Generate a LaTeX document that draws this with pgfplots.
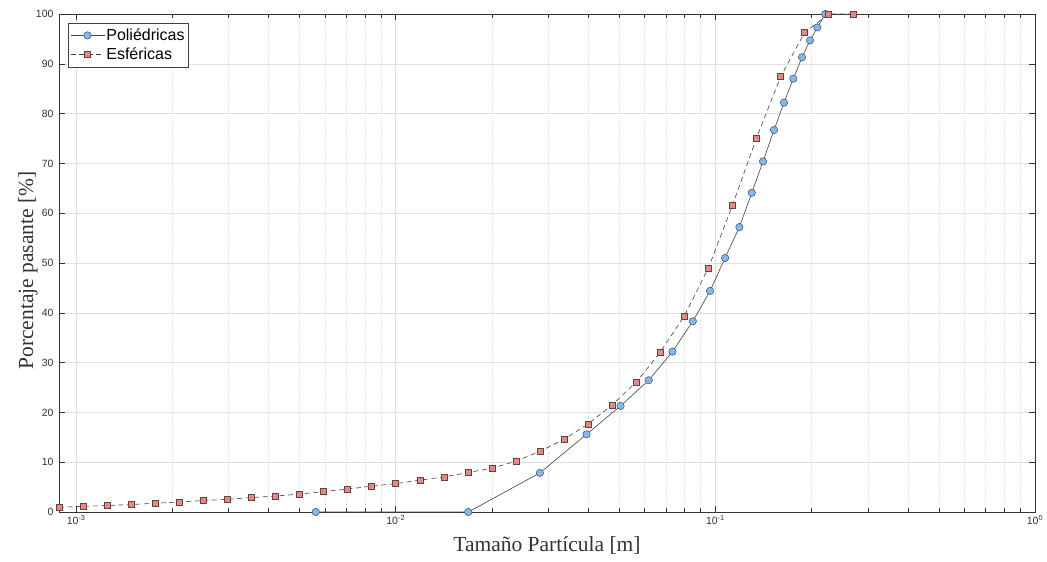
\documentclass[border=0pt]{standalone}
\usepackage{fontspec}
\setmainfont{Liberation Sans}
\newfontfamily\timesfont{Liberation Serif}
\usepackage{pgfplots}
\pgfplotsset{compat=1.18}
\definecolor{polfill}{RGB}{128,184,245}
\definecolor{esffill}{RGB}{248,128,128}
\begin{document}
\begin{tikzpicture}
\path[use as bounding box] (-59pt,-50pt) rectangle (988pt,512pt);
\begin{axis}[
  scale only axis,
  width=976pt, height=498pt,
  xmode=log,
  xmin=0.000884, xmax=1,
  ymin=0, ymax=100,
  clip=false,
  xtick={0.001,0.01,0.1,1},
  xticklabels={10\textsuperscript{-3},10\textsuperscript{-2},10\textsuperscript{-1},10\textsuperscript{0}},
  ytick={0,10,...,100},
  /pgf/number format/assume math mode=true,
  tick label style={font=\fontsize{10.5}{12}\selectfont, color=black!80},
  yticklabel style={xshift=-2pt},
  major tick length=6pt,
  minor tick length=4pt,
  axis line style={black!80, line width=0.6pt},
  tick style={black!80, line width=0.5pt},
  xmajorgrids=true, xminorgrids=true, ymajorgrids=true,
  major grid style={black!12, line width=0.5pt},
  minor grid style={black!14, dotted, line width=0.5pt},
  xlabel={\timesfont Tamaño Partícula [m]},
  ylabel={\timesfont Porcentaje pasante [\%]},
  xlabel style={at={(axis description cs:0.5,0)}, anchor=base, yshift=-40pt, font=\fontsize{21.5}{24}\selectfont, color=black!80},
  ylabel style={at={(axis description cs:-0.0266,0.485)}, anchor=base, font=\fontsize{21.5}{24}\selectfont, color=black!80},
  legend cell align=left,
  legend style={at={(0,1)}, anchor=north west, xshift=9pt, yshift=-9pt,
    draw=black!75, line width=0.5pt, font=\fontsize{16}{18}\selectfont,
    inner xsep=2pt, inner ysep=4pt, row sep=3pt,
    nodes={inner sep=1.5pt}},
  legend image code/.code={\draw[mark repeat=2, mark phase=2, #1] plot coordinates {(0pt,0pt) (17pt,0pt) (34pt,0pt)};},
]
\addplot[black!75, line width=0.6pt, mark=*, mark size=3.7pt,
  mark options={solid, fill=polfill, draw=black!70, line width=0.5pt}]
coordinates {
(0.00562,0) (0.01687,0) (0.02825,7.85) (0.03954,15.6) (0.0505,21.3)
(0.0619,26.45) (0.0734,32.2) (0.0850,38.3) (0.0963,44.4) (0.1072,51.0)
(0.1189,57.2) (0.1300,64.1) (0.1410,70.4) (0.1526,76.7) (0.1640,82.2)
(0.1754,87.0) (0.1867,91.3) (0.1978,94.7) (0.2085,97.3) (0.2208,100)
};
\addlegendentry{Poliédricas}
\addplot[black!75, line width=0.6pt, dash pattern=on 5pt off 3.5pt, mark=square*, mark size=3pt,
  mark options={solid, fill=esffill, draw=black!70, line width=0.5pt}]
coordinates {
(0.000884,0.95) (0.001051,1.15) (0.00125,1.3) (0.001487,1.5) (0.001768,1.75)
(0.002102,2.0) (0.0025,2.3) (0.002973,2.55) (0.003536,2.9) (0.004204,3.2)
(0.005,3.6) (0.005946,4.1) (0.007071,4.6) (0.008409,5.2) (0.01,5.7)
(0.011892,6.4) (0.014142,7.05) (0.016818,7.9) (0.02,8.8) (0.023784,10.2)
(0.028284,12.2) (0.033636,14.6) (0.04,17.7) (0.047568,21.5) (0.056569,26.1)
(0.067272,32.1) (0.08,39.4) (0.095137,49.0) (0.113137,61.6) (0.134543,75.1)
(0.16,87.4) (0.190273,96.3) (0.226274,100) (0.269087,100)
};
\addlegendentry{Esféricas}
\end{axis}
\end{tikzpicture}
\end{document}
